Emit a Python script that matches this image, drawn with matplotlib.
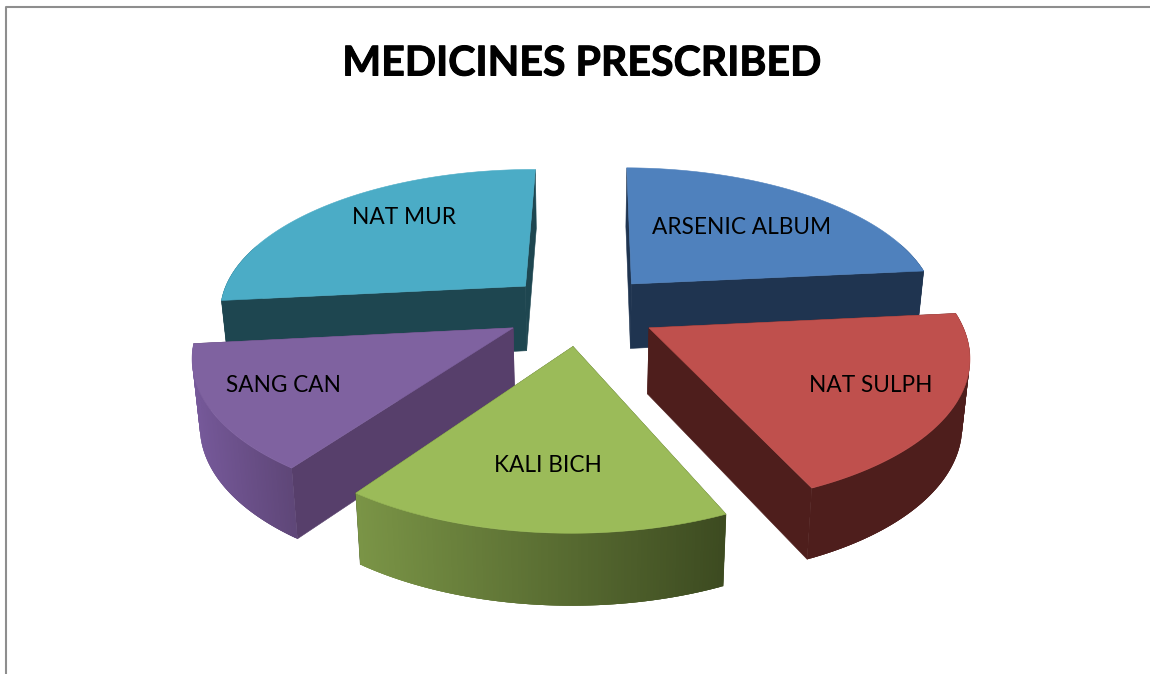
import numpy as np
import matplotlib
matplotlib.use("Agg")
import matplotlib.pyplot as plt
import matplotlib.patheffects as pe
from matplotlib.colors import to_rgb
from matplotlib.patches import Polygon

# ---- data -----------------------------------------------------------
categories = ["ARSENIC ALBUM", "NAT SULPH", "KALI BICH", "SANG CAN", "NAT MUR"]
values = [23.3, 19.9, 16.5, 13.5, 26.8]
title = "MEDICINES PRESCRIBED"

# ---- styles ----------------------------------------------------------
top_colors = ["#4F81BD", "#BF504D", "#9BBB59", "#7F62A0", "#4BACC6"]
wall_colors = ["#1F3450", "#4E1E1C", "#3F4F22", "#573F6B", "#1E4650"]
rim_left = ["#1F3450", "#4E1E1C", "#7A9446", "#76599A", "#1E4650"]
rim_right = ["#1F3450", "#4E1E1C", "#3C4A20", "#5E4677", "#1E4650"]
label_px = [(742, 227), (871, 385), (548, 465), (284, 385), (404, 217)]
draw_order = [0, 4, 1, 3, 2]

W, H = 1150, 674
CX, CY = 581, 309.5
RX, RY = 308, 142.7
PERSP = 0.163
DEPTH = 65.5
EXPLODE = 0.25
START = np.deg2rad(0.5)


def project(x, y, z=0.0):
    x, y, z = np.asarray(x), np.asarray(y), np.asarray(z)
    w = 1.0 / (1.0 + PERSP * y)
    px = CX + RX * x * w * (1 - 0.02 * z)
    py = CY - RY * y * w + DEPTH * (1 - 0.085 * y) * z
    return px, py


fig = plt.figure(figsize=(W / 100, H / 100), dpi=100)
ax = fig.add_axes([0, 0, 1, 1])
ax.set_xlim(0, W)
ax.set_ylim(H, 0)
ax.axis("off")
plt.rcParams["font.family"] = ["Lato", "DejaVu Sans"]

# frame of the chart area
ax.plot([5.5, 5.5, W + 5], [H + 5, 7, 7], color="#8E8E8E", lw=1.5, clip_on=False)

fracs = np.array(values, dtype=float) / np.sum(values)
ends = START + np.cumsum(fracs) * 2 * np.pi
starts = ends - fracs * 2 * np.pi


def wall(x0, y0, x1, y1, color, zorder, lw=0.4):
    px, py = project([x0, x1, x1, x0], [y0, y1, y1, y0], [0, 0, 1, 1])
    ax.add_patch(Polygon(np.column_stack([px, py]), closed=True, facecolor=color,
                         edgecolor=color if lw else "none", lw=lw, zorder=zorder))


for rank, i in enumerate(draw_order):
    a0, a1 = starts[i], ends[i]
    mid = (a0 + a1) / 2
    ox, oy = EXPLODE * np.sin(mid), EXPLODE * np.cos(mid)
    z = 10 * (rank + 1)
    theta = np.linspace(a0, a1, 120)
    ex, ey = ox + np.sin(theta), oy + np.cos(theta)

    # radial walls
    for a in (a0, a1):
        wall(ox, oy, ox + np.sin(a), oy + np.cos(a), wall_colors[i], z)

    # outer rim with a horizontal shade; each strip overlaps the next to avoid seams
    lc, rc = np.array(to_rgb(rim_left[i])), np.array(to_rgb(rim_right[i]))
    px0, _ = project(ex, ey)
    span = max(px0.max() - px0.min(), 1)
    order = np.arange(len(theta) - 1)
    if np.sin(mid) > 0 and np.cos(mid) < 0:
        order = order[::-1]
    for k in order:
        if ey[k] - oy > 0.3 and ey[k + 1] - oy > 0.3:
            continue
        t = (0.5 * (px0[k] + px0[k + 1]) - px0.min()) / span
        k2 = min(k + 2, len(theta) - 1)
        k1 = max(k - 1, 0)
        wall(ex[k1], ey[k1], ex[k2], ey[k2], lc + (rc - lc) * t, z + 1, lw=0)

    # top face
    tx, ty = project(np.r_[ox, ex], np.r_[oy, ey])
    ax.add_patch(Polygon(np.column_stack([tx, ty]), closed=True, facecolor=top_colors[i],
                         edgecolor=top_colors[i], lw=0.4, zorder=z + 2))

for name, (lx, ly) in zip(categories, label_px):
    ax.text(lx, ly, name, fontsize=16.3, color="black", ha="center", va="center", zorder=200)

ax.text(581.5, 64, title, fontsize=29.6, fontweight="bold", color="black", ha="center", va="center", zorder=200,
        path_effects=[pe.withStroke(linewidth=0.7, foreground="black")])

fig.savefig("out.png", dpi=100)
